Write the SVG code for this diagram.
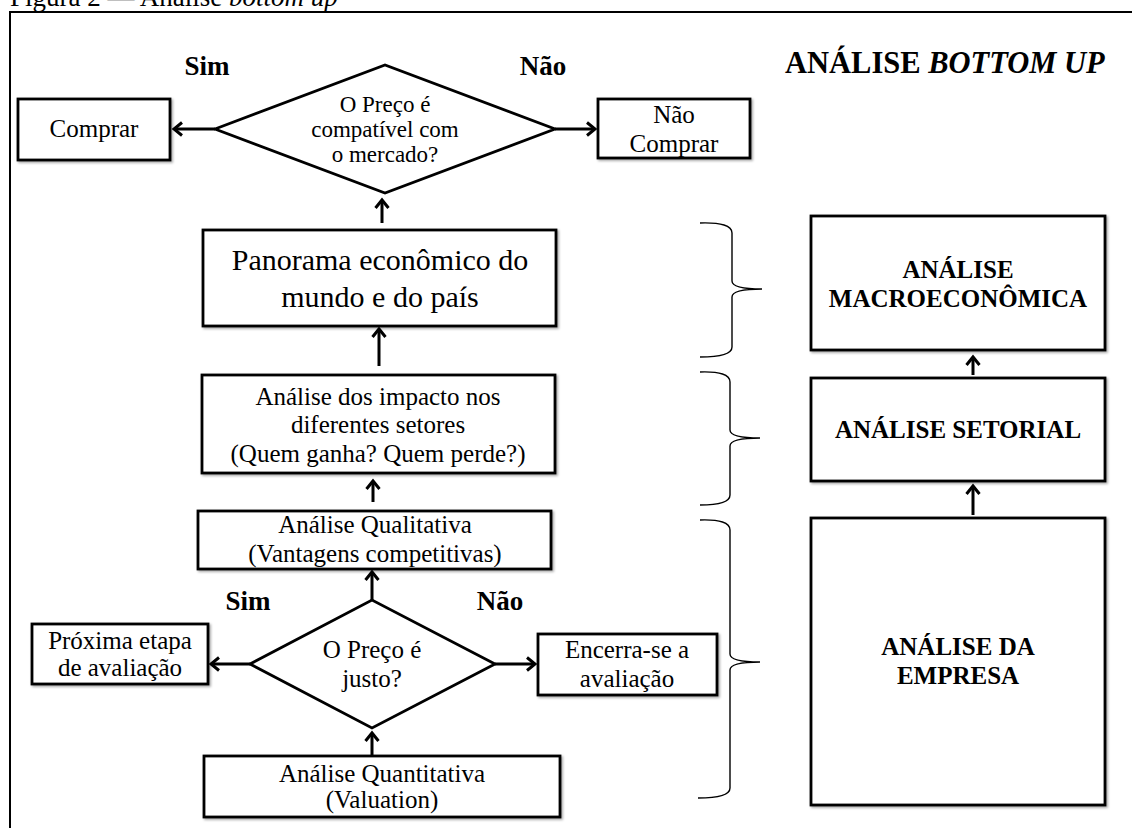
<svg xmlns="http://www.w3.org/2000/svg" width="1132" height="828" viewBox="0 0 1132 828">
  <style>
    .box { fill: #ffffff; stroke: #000000; stroke-width: 2.8; filter: url(#shadow); }
    .dia { fill: #ffffff; stroke: #000000; stroke-width: 2.8; stroke-linejoin: miter; }
    .arrow { fill: none; stroke: #000000; stroke-width: 3; marker-end: url(#head); }
    .brace { fill: none; stroke: #000000; stroke-width: 1.4; }
    .frame { fill: none; stroke: #000000; stroke-width: 2; }
    text { font-family: "Liberation Serif", "Times New Roman", serif; fill: #000000; text-anchor: middle; }
    .t25 { font-size: 25px; }
    .t23 { font-size: 23px; }
    .t30 { font-size: 30px; }
    .lbl { font-size: 27px; font-weight: bold; }
    .side { font-size: 25px; font-weight: bold; }
  </style>
  <defs>
    <filter id="shadow" x="-5%" y="-5%" width="115%" height="115%">
      <feDropShadow dx="1.5" dy="1.5" stdDeviation="1" flood-color="#000000" flood-opacity="0.35"/>
    </filter>
    <marker id="head" markerUnits="userSpaceOnUse" viewBox="-12 -10 16 20" markerWidth="16" markerHeight="20" refX="0" refY="0" orient="auto">
      <path d="M -8 -6.5 L 0 0 L -8 6.5" fill="none" stroke="#000000" stroke-width="3"/>
    </marker>
  </defs>

  <rect x="0" y="0" width="1132" height="828" fill="#ffffff"/>

  <!-- caption, running off the top edge of the page -->
  <text x="10" y="6" style="font-size:27px; text-anchor:start">Figura 2 — Análise <tspan font-style="italic">bottom up</tspan></text>

  <!-- outer frame -->
  <path class="frame" d="M 10 828 L 10 12 L 1132 12"/>

  <!-- heading -->
  <text x="785" y="73" style="font-size:30.5px; font-weight:bold; text-anchor:start">ANÁLISE <tspan font-style="italic">BOTTOM UP</tspan></text>

  <!-- yes / no labels -->
  <g id="labels">
    <text class="lbl" x="207" y="75">Sim</text>
    <text class="lbl" x="543" y="75">Não</text>
    <text class="lbl" x="248" y="610">Sim</text>
    <text class="lbl" x="500" y="610">Não</text>
  </g>

  <!-- connectors -->
  <g id="connectors">
    <line class="arrow" x1="215" y1="129" x2="174" y2="129"/>
    <line class="arrow" x1="555" y1="129" x2="595" y2="129"/>
    <line class="arrow" x1="382" y1="223" x2="382" y2="200"/>
    <line class="arrow" x1="379" y1="366" x2="379" y2="329"/>
    <line class="arrow" x1="373" y1="502" x2="373" y2="481"/>
    <line class="arrow" x1="372" y1="600" x2="372" y2="572"/>
    <line class="arrow" x1="250" y1="664" x2="211" y2="664"/>
    <line class="arrow" x1="495" y1="664" x2="535" y2="664"/>
    <line class="arrow" x1="372" y1="755" x2="372" y2="733"/>
    <line class="arrow" x1="973" y1="375" x2="973" y2="357"/>
    <line class="arrow" x1="973" y1="515" x2="973" y2="486"/>
  </g>

  <!-- braces -->
  <g id="braces">
    <path class="brace" d="M 700 223 Q 732 222 732 233 L 732 281 Q 732 289 762 289 Q 732 289 732 297 L 732 347 Q 732 357 700 357"/>
    <path class="brace" d="M 700 372 Q 730 371 730 382 L 730 430 Q 730 438 760 438 Q 730 438 730 446 L 730 495 Q 730 505 700 505"/>
    <path class="brace" d="M 700 520 Q 730 519 730 530 L 730 654 Q 730 662 760 662 Q 730 662 730 670 L 730 788 Q 730 798 698 798"/>
  </g>

  <g id="decision-buy">
    <polygon class="dia" points="215,129 385,65 555,129 385,193"/>
    <text class="t23" x="385" y="112">O Preço é</text>
    <text class="t23" x="385" y="137">compatível com</text>
    <text class="t23" x="385" y="162">o mercado?</text>
  </g>

  <g id="comprar">
    <rect class="box" x="18" y="99" width="152" height="61"/>
    <text class="t25" x="94" y="137">Comprar</text>
  </g>

  <g id="nao-comprar">
    <rect class="box" x="598" y="99" width="152" height="59"/>
    <text class="t25" x="674" y="123">Não</text>
    <text class="t25" x="674" y="152">Comprar</text>
  </g>

  <g id="panorama">
    <rect class="box" x="203" y="230" width="353" height="96"/>
    <text class="t30" x="380" y="270">Panorama econômico do</text>
    <text class="t30" x="380" y="307">mundo e do país</text>
  </g>

  <g id="impacto">
    <rect class="box" x="202" y="375" width="353" height="98"/>
    <text class="t25" x="378" y="405">Análise dos impacto nos</text>
    <text class="t25" x="378" y="433">diferentes setores</text>
    <text class="t25" x="378" y="462">(Quem ganha? Quem perde?)</text>
  </g>

  <g id="qualitativa">
    <rect class="box" x="198" y="511" width="353" height="58"/>
    <text class="t25" x="375" y="533">Análise Qualitativa</text>
    <text class="t25" x="375" y="562">(Vantagens competitivas)</text>
  </g>

  <g id="decision-fair">
    <polygon class="dia" points="250,664 372,600 495,664 372,728"/>
    <text class="t25" x="372" y="658">O Preço é</text>
    <text class="t25" x="372" y="687">justo?</text>
  </g>

  <g id="proxima">
    <rect class="box" x="32" y="624" width="176" height="60"/>
    <text class="t25" x="120" y="649">Próxima etapa</text>
    <text class="t25" x="120" y="676">de avaliação</text>
  </g>

  <g id="encerra">
    <rect class="box" x="538" y="634" width="179" height="61"/>
    <text class="t25" x="627" y="658">Encerra-se a</text>
    <text class="t25" x="627" y="687">avaliação</text>
  </g>

  <g id="quantitativa">
    <rect class="box" x="204" y="756" width="356" height="61"/>
    <text class="t25" x="382" y="782">Análise Quantitativa</text>
    <text class="t25" x="382" y="808">(Valuation)</text>
  </g>

  <g id="macro">
    <rect class="box" x="811" y="216" width="294" height="134"/>
    <text class="side" x="958" y="278">ANÁLISE</text>
    <text class="side" x="958" y="307">MACROECONÔMICA</text>
  </g>

  <g id="setorial">
    <rect class="box" x="811" y="378" width="294" height="103"/>
    <text class="side" x="958" y="438">ANÁLISE SETORIAL</text>
  </g>

  <g id="empresa">
    <rect class="box" x="811" y="518" width="294" height="287"/>
    <text class="side" x="958" y="655">ANÁLISE DA</text>
    <text class="side" x="958" y="684">EMPRESA</text>
  </g>
</svg>
